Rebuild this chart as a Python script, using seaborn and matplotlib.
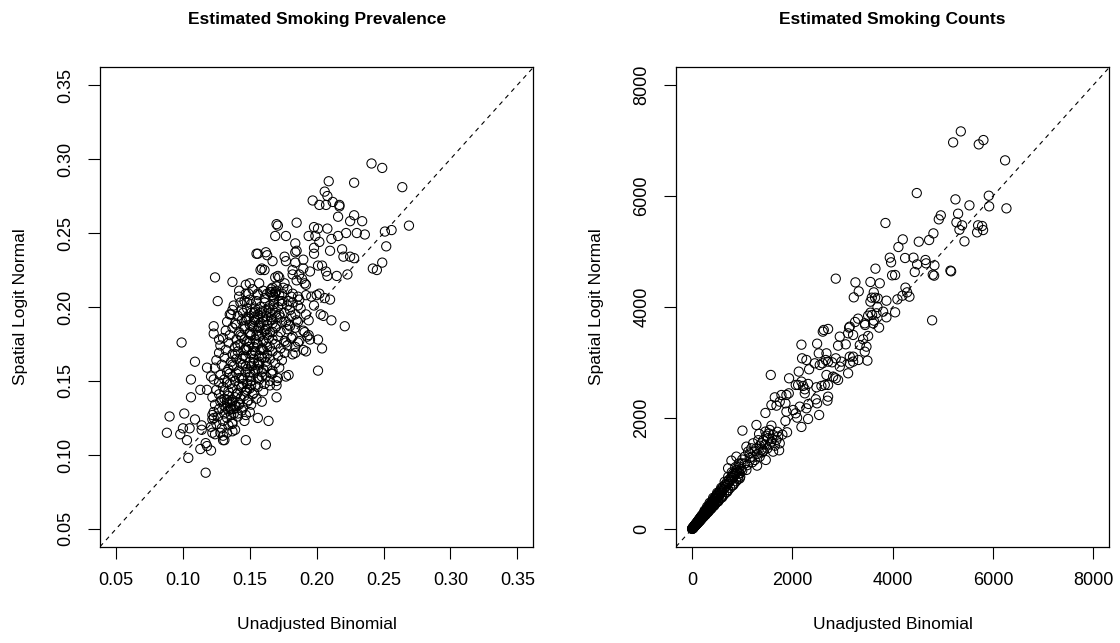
import matplotlib
matplotlib.use("Agg")
import matplotlib.pyplot as plt
import seaborn as sns
import pandas as pd

# ---- Estimated smoking prevalence: unadjusted binomial vs spatial logit normal ----
prev_binomial = [
    0.241, 0.249, 0.209, 0.228, 0.264, 0.206, 0.208, 0.197, 0.202, 0.207,
    0.212, 0.217, 0.217, 0.216, 0.228, 0.225, 0.234, 0.222, 0.230, 0.236,
    0.251, 0.256, 0.269, 0.252, 0.249, 0.242, 0.245, 0.223, 0.185, 0.170,
    0.171, 0.169, 0.177, 0.194, 0.198, 0.201, 0.208, 0.199, 0.202, 0.211,
    0.216, 0.210, 0.219, 0.220, 0.225, 0.228, 0.198, 0.198, 0.184, 0.185,
    0.184, 0.190, 0.176, 0.167, 0.155, 0.156, 0.162, 0.163, 0.159, 0.158,
    0.161, 0.201, 0.204, 0.207, 0.208, 0.215, 0.195, 0.177, 0.184, 0.190,
    0.182, 0.182, 0.187, 0.189, 0.185, 0.191, 0.192, 0.171, 0.169, 0.172,
    0.176, 0.175, 0.170, 0.167, 0.165, 0.169, 0.167, 0.172, 0.182, 0.186,
    0.192, 0.196, 0.200, 0.202, 0.198, 0.206, 0.210, 0.203, 0.205, 0.211,
    0.221, 0.192, 0.194, 0.186, 0.187, 0.179, 0.174, 0.180, 0.184, 0.185,
    0.157, 0.150, 0.147, 0.156, 0.149, 0.142, 0.146, 0.148, 0.144, 0.137,
    0.124, 0.126, 0.137, 0.136, 0.135, 0.123, 0.139, 0.154, 0.156, 0.165,
    0.167, 0.172, 0.163, 0.167, 0.177, 0.147,
    0.099, 0.109, 0.106, 0.106, 0.118, 0.113, 0.118, 0.121, 0.123, 0.090,
    0.101, 0.088, 0.098, 0.100, 0.103, 0.105, 0.109, 0.114, 0.114, 0.113,
    0.117, 0.118, 0.121, 0.104, 0.117, 0.122, 0.122, 0.123, 0.128, 0.130,
    0.131, 0.133, 0.137, 0.137, 0.147, 0.162, 0.156, 0.164, 0.170, 0.159,
    0.201, 0.204, 0.201, 0.177, 0.179, 0.177, 0.184, 0.191, 0.194, 0.192,
    0.195, 0.190, 0.186, 0.182, 0.180, 0.184, 0.170, 0.170, 0.165, 0.167,
    0.123, 0.127,
    0.142, 0.147, 0.152, 0.156, 0.160, 0.163, 0.166, 0.168, 0.170, 0.174, 0.178, 0.181,
    0.138, 0.143, 0.148, 0.151, 0.155, 0.158, 0.161, 0.164, 0.168, 0.171, 0.174, 0.178, 0.182, 0.188,
    0.141, 0.145, 0.149, 0.153, 0.156, 0.159, 0.162, 0.166, 0.169, 0.173, 0.176, 0.181,
    0.133, 0.140, 0.144, 0.150, 0.153, 0.157, 0.160, 0.163, 0.166, 0.170, 0.174, 0.179, 0.186,
    0.132, 0.137, 0.142, 0.146, 0.150, 0.153, 0.156, 0.159, 0.162, 0.165, 0.169, 0.173, 0.178, 0.190,
    0.130, 0.135, 0.140, 0.144, 0.148, 0.151, 0.154, 0.157, 0.160, 0.163, 0.167, 0.171, 0.176, 0.181, 0.187, 0.193,
    0.128, 0.134, 0.139, 0.143, 0.147, 0.150, 0.153, 0.156, 0.159, 0.162, 0.165, 0.169, 0.173, 0.178, 0.184,
    0.127, 0.132, 0.137, 0.141, 0.145, 0.148, 0.151, 0.154, 0.157, 0.160, 0.163, 0.167, 0.171, 0.176, 0.182,
    0.125, 0.131, 0.136, 0.140, 0.143, 0.147, 0.150, 0.153, 0.156, 0.159, 0.162, 0.165, 0.169, 0.174,
    0.124, 0.129, 0.134, 0.138, 0.142, 0.145, 0.148, 0.151, 0.154, 0.157, 0.160, 0.163, 0.167, 0.172,
    0.128, 0.133, 0.137, 0.140, 0.144, 0.147, 0.150, 0.153, 0.156, 0.159, 0.162, 0.166, 0.171,
    0.127, 0.131, 0.135, 0.139, 0.142, 0.145, 0.148, 0.151, 0.154, 0.157, 0.161, 0.165,
    0.125, 0.130, 0.134, 0.137, 0.141, 0.144, 0.147, 0.150, 0.153, 0.156, 0.160,
    0.122, 0.127, 0.131, 0.134, 0.137, 0.140, 0.143, 0.146, 0.149, 0.152, 0.155,
    0.124, 0.128, 0.131, 0.133, 0.135, 0.137, 0.139, 0.142, 0.145, 0.148, 0.151,
    0.123, 0.127, 0.131, 0.134, 0.136, 0.138, 0.141, 0.144, 0.147, 0.150,
    0.122, 0.126, 0.130, 0.133, 0.137, 0.141, 0.146,
    0.121, 0.125, 0.129, 0.134, 0.139,
    0.124, 0.130,
    0.150, 0.154, 0.158, 0.161, 0.165, 0.148, 0.152, 0.155, 0.158, 0.161,
    0.164, 0.146, 0.149, 0.152, 0.155, 0.158, 0.161, 0.144, 0.147, 0.150,
    0.153, 0.156, 0.159, 0.142, 0.145, 0.148, 0.151, 0.139, 0.142, 0.136,
    0.133, 0.138, 0.140, 0.135, 0.132, 0.157, 0.163, 0.167, 0.170, 0.172,
    0.169, 0.166, 0.168, 0.162, 0.160, 0.157, 0.154, 0.151, 0.146, 0.143,
    0.141, 0.139, 0.137, 0.135, 0.133, 0.131, 0.129, 0.146, 0.150, 0.153,
]
prev_spatial = [
    0.297, 0.294, 0.285, 0.284, 0.281, 0.278, 0.275, 0.272, 0.269, 0.269,
    0.271, 0.269, 0.268, 0.261, 0.262, 0.258, 0.258, 0.250, 0.250, 0.249,
    0.251, 0.252, 0.255, 0.241, 0.230, 0.226, 0.225, 0.222, 0.257, 0.256,
    0.255, 0.248, 0.248, 0.248, 0.254, 0.253, 0.253, 0.248, 0.244, 0.246,
    0.248, 0.238, 0.239, 0.234, 0.234, 0.233, 0.240, 0.236, 0.243, 0.238,
    0.237, 0.232, 0.234, 0.231, 0.236, 0.236, 0.237, 0.235, 0.226, 0.225,
    0.225, 0.228, 0.228, 0.224, 0.221, 0.221, 0.224, 0.231, 0.230, 0.226,
    0.225, 0.222, 0.222, 0.219, 0.218, 0.216, 0.215, 0.221, 0.220, 0.220,
    0.216, 0.213, 0.214, 0.213, 0.210, 0.210, 0.208, 0.208, 0.209, 0.207,
    0.208, 0.207, 0.208, 0.209, 0.201, 0.206, 0.205, 0.195, 0.194, 0.191,
    0.187, 0.195, 0.191, 0.201, 0.205, 0.204, 0.202, 0.198, 0.195, 0.191,
    0.216, 0.216, 0.215, 0.209, 0.209, 0.207, 0.204, 0.203, 0.198, 0.217,
    0.220, 0.204, 0.198, 0.195, 0.195, 0.187, 0.189, 0.197, 0.195, 0.196,
    0.198, 0.195, 0.191, 0.189, 0.190, 0.191,
    0.176, 0.163, 0.151, 0.139, 0.159, 0.144, 0.144, 0.153, 0.151, 0.126,
    0.128, 0.115, 0.114, 0.118, 0.110, 0.118, 0.124, 0.120, 0.117, 0.104,
    0.108, 0.106, 0.103, 0.098, 0.088, 0.115, 0.127, 0.125, 0.115, 0.110,
    0.110, 0.115, 0.116, 0.121, 0.110, 0.107, 0.125, 0.123, 0.139, 0.136,
    0.157, 0.172, 0.178, 0.153, 0.154, 0.176, 0.169, 0.183, 0.181, 0.170,
    0.178, 0.171, 0.176, 0.180, 0.187, 0.186, 0.147, 0.150, 0.147, 0.155,
    0.182, 0.178,
    0.211, 0.209, 0.212, 0.208, 0.211, 0.209, 0.212, 0.207, 0.211, 0.209, 0.212, 0.207,
    0.201, 0.203, 0.199, 0.202, 0.204, 0.200, 0.203, 0.199, 0.202, 0.200, 0.204, 0.201, 0.203, 0.199,
    0.194, 0.196, 0.193, 0.196, 0.193, 0.197, 0.194, 0.193, 0.196, 0.193, 0.196, 0.194,
    0.190, 0.188, 0.191, 0.188, 0.190, 0.187, 0.190, 0.188, 0.191, 0.187, 0.190, 0.188, 0.190,
    0.184, 0.186, 0.183, 0.185, 0.183, 0.186, 0.184, 0.182, 0.185, 0.183, 0.186, 0.183, 0.185, 0.184,
    0.179, 0.181, 0.178, 0.180, 0.177, 0.181, 0.178, 0.180, 0.177, 0.181, 0.178, 0.180, 0.177, 0.179, 0.177, 0.180,
    0.174, 0.176, 0.173, 0.175, 0.172, 0.176, 0.173, 0.175, 0.172, 0.176, 0.173, 0.175, 0.172, 0.174, 0.173,
    0.169, 0.171, 0.168, 0.170, 0.167, 0.171, 0.168, 0.170, 0.167, 0.171, 0.168, 0.170, 0.167, 0.169, 0.168,
    0.164, 0.166, 0.163, 0.165, 0.162, 0.166, 0.163, 0.165, 0.162, 0.166, 0.163, 0.165, 0.162, 0.164,
    0.159, 0.161, 0.158, 0.160, 0.157, 0.161, 0.158, 0.160, 0.157, 0.161, 0.158, 0.160, 0.157, 0.159,
    0.154, 0.156, 0.153, 0.155, 0.152, 0.156, 0.153, 0.155, 0.152, 0.156, 0.153, 0.155, 0.152,
    0.149, 0.151, 0.148, 0.150, 0.147, 0.151, 0.148, 0.150, 0.147, 0.151, 0.148, 0.150,
    0.144, 0.146, 0.143, 0.145, 0.142, 0.146, 0.143, 0.145, 0.142, 0.146, 0.143,
    0.139, 0.141, 0.138, 0.140, 0.137, 0.141, 0.138, 0.140, 0.137, 0.141, 0.138,
    0.134, 0.136, 0.133, 0.135, 0.132, 0.136, 0.133, 0.135, 0.132, 0.136, 0.134,
    0.129, 0.131, 0.128, 0.130, 0.127, 0.131, 0.128, 0.130, 0.127, 0.129,
    0.124, 0.126, 0.123, 0.125, 0.122, 0.126, 0.123,
    0.119, 0.121, 0.118, 0.120, 0.117,
    0.114, 0.113,
    0.205, 0.199, 0.196, 0.206, 0.201, 0.192, 0.187, 0.181, 0.189, 0.184,
    0.179, 0.178, 0.173, 0.169, 0.176, 0.171, 0.166, 0.165, 0.160, 0.156,
    0.162, 0.158, 0.153, 0.152, 0.148, 0.144, 0.147, 0.139, 0.134, 0.131,
    0.137, 0.128, 0.133, 0.136, 0.132, 0.163, 0.173, 0.183, 0.193, 0.204,
    0.209, 0.210, 0.205, 0.198, 0.193, 0.186, 0.191, 0.196, 0.187, 0.181,
    0.174, 0.168, 0.161, 0.155, 0.149, 0.143, 0.137, 0.171, 0.182, 0.193,
]

# ---- Estimated smoking counts: unadjusted binomial vs spatial logit normal ----
count_binomial = [
    5358, 5205, 5716, 5809, 6241, 4480, 5251, 5530, 5916, 5923, 6268, 4959, 4919,
    5304, 5271, 5384, 5331, 5431, 5703, 5783, 5683, 5802, 4812, 4726, 4520, 4201,
    4114, 3855, 4247, 4414, 3942, 3968, 4487, 4653, 4666, 4832, 4440, 4799, 4826,
    5151, 5165, 3656, 3988, 4048, 3556, 3742, 3257, 3323, 3224, 2865, 3623, 3649,
    3702, 3556, 3583, 3875, 4094, 4194, 4254, 4287, 4334, 4786, 3696, 3809, 4048,
    3875, 3556, 3510, 3443, 3310, 3250, 3131, 2712, 2626, 3729, 3610,
    3676, 3589, 3623, 3450, 3144, 3111, 3211, 2606, 2180, 2493, 2526, 2679, 2911,
    2945, 3064, 3211, 3144, 3344, 3443, 3410, 3510, 3477, 3317, 3496, 2193, 2280,
    2333, 2446, 2546, 2600, 2666, 2712, 2792, 2865, 2945, 2978, 3111, 3144, 3211,
    1569, 1934, 2127, 2180, 2114, 2067, 2213, 2247, 2313, 2247, 2479, 2579, 2646,
    2712, 2679, 2812, 2865, 2911, 2712, 2699, 2466, 2493, 2320, 2280, 2147, 2014,
    2067, 1881, 1861, 1748, 1649, 1782, 1881, 1928, 1682, 1582, 2533, 2313, 2094,
    2180, 1861, 1894, 1462, 1004, 1283, 1462, 1582, 1549, 1715, 1735, 1615, 1416,
    1469, 1296, 1083, 1216, 1150, 883, 784, 718, 950, 1083,
    1336, 1515, 1615, 1682, 1748, 1582, 1383, 1283, 1183, 1117, 1203, 1349, 1250,
    1050, 984, 884, 818, 917, 1350, 1420, 1500, 1550, 1650, 1300, 1200, 1100,
    1000, 1400, 1600, 1700, 1800, 1250, 1150, 1050, 950, 1480, 1380, 1450, 1320, 1530,
    0, 5, 10, 12, 18, 20, 25, 30, 35, 40, 45, 50, 55, 60, 65, 70, 75, 80, 85, 90,
    95, 100, 105, 110, 115, 120, 125, 130, 135, 140, 145, 150, 155, 160, 165, 170,
    175, 180, 185, 190, 195, 200, 210, 220, 230, 240, 250, 260, 270, 280, 290, 300,
    310, 320, 330, 340, 350, 360, 370, 380, 390, 400, 410, 420, 430, 440, 450, 460,
    470, 480, 490, 500, 515, 530, 545, 560, 575, 590, 605, 620, 640, 660, 680, 700,
    720, 740, 760, 780, 800, 820, 840, 860, 880, 900, 920, 940, 960, 980,
    15, 28, 42, 58, 75, 95, 115, 135, 155, 175, 195, 215, 235, 255, 275, 295, 315,
    335, 355, 375, 395, 415, 435, 455, 475, 495, 520, 545, 570, 595, 625, 655, 685,
    715, 745, 775, 805, 835, 865, 895,
    2, 8, 15, 22, 30, 38, 48, 62, 68, 82, 100, 118, 140, 160, 190, 230, 270, 320,
    380, 440, 520, 600, 700, 820, 950,
    250, 300, 350, 420, 500, 580, 650, 720, 790, 860, 930, 1000,
]
count_spatial = [
    7165, 6967, 6931, 7009, 6643, 6054, 5940, 5832, 6006, 5814, 5778, 5652, 5580,
    5682, 5526, 5472, 5393, 5183, 5472, 5460, 5345, 5387, 5327, 5207, 5177, 5219,
    5081, 5514, 4883, 4889, 4889, 4805, 4769, 4847, 4787, 4751, 4631, 4583, 4565,
    4655, 4643, 4691, 4571, 4577, 4451, 4427, 4444, 4282, 4174, 4511, 4264, 4168,
    4156, 4096, 4168, 4114, 4138, 4204, 4349, 4264, 4186, 3760, 4000, 3916, 3904,
    3814, 3898, 3844, 3706, 3790, 3730, 3628, 3604, 3586, 3628, 3706,
    3886, 3856, 3754, 3676, 3646, 3526, 3496, 3556, 3321, 3339, 3165, 3165, 3303,
    3466, 3327, 3105, 3105, 3315, 3195, 3417, 3478, 3285, 3045, 3033, 3075, 3045,
    2877, 2985, 2955, 2985, 3045, 3015, 3003, 3075, 2925, 3015, 2805, 2985, 3015,
    2775, 2715, 2835, 2655, 2595, 2595, 2577, 2517, 2613, 2444, 2553, 2577, 2595,
    2595, 2775, 2745, 2715, 2685, 2384, 2312, 2336, 2264, 2252, 2174, 2204, 2144,
    2084, 2114, 2264, 2294, 2372, 2414, 2414, 2444, 2222, 2234, 2054, 1982, 2006,
    1838, 1946, 1742, 2090, 1772, 1874, 1754, 1862, 1784, 1664, 1417, 1393, 1405,
    1243, 1141, 1483, 1543, 1363, 1303, 1231, 1093, 1123, 1063,
    1712, 1634, 1694, 1604, 1543, 1573, 1543, 1453, 1453, 1393, 1303, 1303, 1243,
    1303, 1183, 1063, 1003, 943, 1500, 1600, 1450, 1520, 1500, 1350, 1200, 1150,
    1050, 1380, 1620, 1750, 1700, 1400, 1280, 1180, 1000, 1680, 1420, 1520, 1600, 1720,
    0, 8, 5, 15, 12, 25, 20, 35, 30, 48, 42, 60, 50, 72, 62, 85, 70, 95, 80, 110,
    92, 120, 100, 135, 110, 145, 120, 160, 130, 170, 140, 185, 150, 195, 160, 210,
    170, 220, 180, 235, 190, 245, 205, 270, 225, 295, 245, 320, 265, 345, 285, 370,
    300, 395, 320, 420, 340, 445, 360, 470, 380, 495, 400, 520, 420, 545, 440, 570,
    460, 595, 480, 620, 500, 650, 530, 690, 560, 720, 590, 760, 620, 800, 660, 850,
    700, 890, 740, 930, 780, 970, 820, 1010, 860, 1050, 900, 1000, 940, 1080,
    18, 30, 55, 65, 90, 105, 128, 150, 172, 195, 215, 240, 260, 285, 305, 330, 350,
    375, 395, 420, 440, 465, 490, 510, 535, 560, 590, 615, 645, 675, 710, 745, 780,
    815, 850, 885, 920, 950, 990, 1020,
    3, 12, 10, 18, 25, 40, 45, 58, 75, 78, 95, 115, 135, 150, 185, 220, 255, 305,
    365, 420, 495, 570, 670, 790, 910,
    330, 400, 470, 560, 650, 740, 850, 940, 1020, 1110, 1180, 1250,
]

panels = [
    ("Estimated Smoking Prevalence", prev_binomial, prev_spatial,
     [0.05, 0.10, 0.15, 0.20, 0.25, 0.30, 0.35], (0.05, 0.35), "{:.2f}"),
    ("Estimated Smoking Counts", count_binomial, count_spatial,
     [0, 2000, 4000, 6000, 8000], (0, 8000), "{:d}"),
]

sns.set_style("ticks")
plt.rcParams["font.family"] = ["Liberation Sans", "DejaVu Sans"]
plt.rcParams.update({
    "text.color": "black",
    "axes.labelcolor": "black",
    "xtick.color": "black",
    "ytick.color": "black",
    "xtick.labelcolor": "black",
    "ytick.labelcolor": "black",
})

fig = plt.figure(figsize=(11.2, 6.43), dpi=100)
axes = [fig.add_axes([0.0893, 0.1498, 0.3869, 0.7455]),
        fig.add_axes([0.6036, 0.1498, 0.3869, 0.7455])]

for ax, (title, xs, ys, ticks, (lo, hi), fmt) in zip(axes, panels):
    df = pd.DataFrame({"binomial": xs, "spatial": ys})
    sns.scatterplot(data=df, x="binomial", y="spatial", ax=ax, marker="o",
                    s=44, facecolors="none", edgecolor="black", linewidth=0.75)
    pad = 0.04 * (hi - lo)
    ax.set_xlim(lo - pad, hi + pad)
    ax.set_ylim(lo - pad, hi + pad)
    ax.axline((lo, lo), slope=1, color="black", linewidth=0.8,
              linestyle=(0, (4, 4)), zorder=1)
    ax.set_xticks(ticks)
    ax.set_yticks(ticks)
    labels = [fmt.format(t) for t in ticks]
    ax.set_xticklabels(labels)
    ax.set_yticklabels(labels, rotation=90, va="center")
    ax.tick_params(axis="both", direction="out", length=8.4, width=0.8,
                   labelsize=13, color="black", labelcolor="black")
    ax.tick_params(axis="x", pad=10)
    ax.tick_params(axis="y", pad=10)
    for sp in ax.spines.values():
        sp.set_visible(True)
        sp.set_linewidth(0.9)
        sp.set_color("black")
    ax.set_xlabel("Unadjusted Binomial", fontsize=12.5, va="center",
                  color="black")
    ax.set_ylabel("Spatial Logit Normal", fontsize=12.5, va="center",
                  color="black")
    ax.xaxis.set_label_coords(0.5, -0.163)
    ax.yaxis.set_label_coords(-0.184, 0.5)
    ax.set_title(title, fontsize=12.5, fontweight="bold", y=1.10, pad=0,
                 va="center", color="black")

fig.savefig("out.png", dpi=100)
